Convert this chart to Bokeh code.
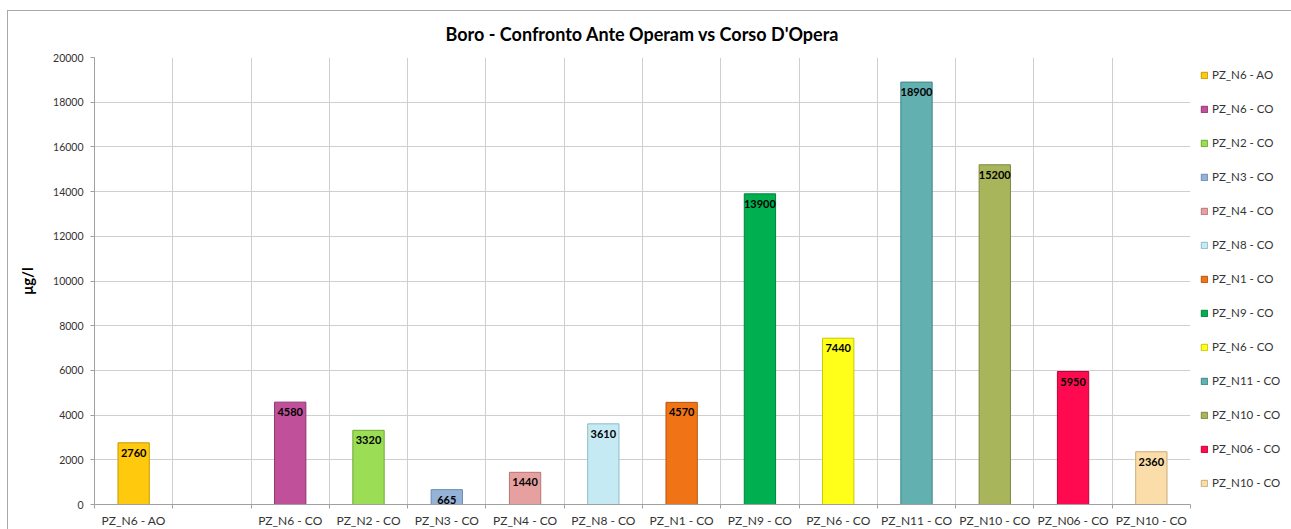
from bokeh.plotting import figure
from bokeh.models import (ColumnDataSource, FixedTicker, Legend, LegendItem, Range1d)
from bokeh.core.properties import value
from bokeh.embed import file_html
from bokeh.resources import INLINE

# ---- data ----
title_text = "Boro - Confronto Ante Operam vs Corso D'Opera"
y_label = "μg/l"
x_labels = ["PZ_N6 - AO", "", "PZ_N6 - CO", "PZ_N2 - CO", "PZ_N3 - CO", "PZ_N4 - CO",
            "PZ_N8 - CO", "PZ_N1 - CO", "PZ_N9 - CO", "PZ_N6 - CO", "PZ_N11 - CO",
            "PZ_N10 - CO", "PZ_N06 - CO", "PZ_N10 - CO"]
series_names = ["PZ_N6 - AO", "PZ_N6 - CO", "PZ_N2 - CO", "PZ_N3 - CO", "PZ_N4 - CO",
                "PZ_N8 - CO", "PZ_N1 - CO", "PZ_N9 - CO", "PZ_N6 - CO", "PZ_N11 - CO",
                "PZ_N10 - CO", "PZ_N06 - CO", "PZ_N10 - CO"]
series_slot = [0, 2, 3, 4, 5, 6, 7, 8, 9, 10, 11, 12, 13]
series_values = [2760, 4580, 3320, 665, 1440, 3610, 4570, 13900, 7440, 18900, 15200, 5950, 2360]
series_colors = ["#FFC90E", "#C0509A", "#9BDD55", "#95B3D7", "#E6A0A0", "#C5EAF3",
                 "#F07415", "#00B050", "#FFFF1A", "#62B0B0", "#A9B55A", "#FF0A50", "#FADDA8"]
line_colors = ["#C89A00", "#8E3570", "#6FA830", "#6A8AB5", "#B87575", "#8FBBC7",
               "#B85410", "#008038", "#C8C800", "#3F8585", "#7D8740", "#C00038", "#C8AD7A"]
y_ticks = list(range(0, 20001, 2000))

FONT = "Lato"
FW, FH = 1096, 447
BL, BT, BB = 86, 46, 24
n_slots = len(x_labels)
centers = [i + 0.5 for i in range(n_slots)]
bounds = list(range(n_slots + 1))

p = figure(frame_width=FW, frame_height=FH, output_backend="svg", toolbar_location=None,
           x_range=Range1d(0, n_slots), y_range=Range1d(0, 20000),
           min_border_left=BL, min_border_right=0, min_border_top=BT, min_border_bottom=BB)

p.title.text = title_text
p.title.align = "center"
p.title.vertical_align = "top"
p.title.text_font = FONT
p.title.text_font_size = "18px"
p.title.text_font_style = "bold"
p.title.text_color = "#000000"
p.title.offset = 0
p.title.standoff = 21

src = ColumnDataSource(dict(x=[s + 0.5 for s in series_slot], top=series_values,
                            fill=series_colors, line=line_colors,
                            lbl=[str(v) for v in series_values]))
bars = p.vbar(x="x", top="top", width=0.4, source=src, fill_color="fill",
              line_color="line", line_width=1)
p.text(x="x", y="top", text="lbl", source=src, text_align="center",
       text_baseline="top", y_offset=6, text_font=value(FONT),
       text_font_size="11px", text_font_style="bold", text_color="#000000")

# axes
p.xaxis.ticker = FixedTicker(ticks=centers, minor_ticks=bounds)
p.xaxis.major_label_overrides = {c: l for c, l in zip(centers, x_labels)}
p.xaxis.major_tick_out = 0
p.xaxis.major_tick_in = 0
p.xaxis.minor_tick_out = 4
p.xaxis.minor_tick_in = 0
p.xaxis.minor_tick_line_color = "#A0A0A0"
p.xaxis.axis_line_color = "#A0A0A0"
p.xaxis.major_label_text_font = FONT
p.xaxis.major_label_text_font_size = "12px"
p.xaxis.major_label_text_color = "#333333"
p.xaxis.major_label_standoff = 4

p.yaxis.ticker = FixedTicker(ticks=y_ticks)
p.yaxis.major_label_overrides = {t: str(t) for t in y_ticks}
p.yaxis.minor_tick_line_color = None
p.yaxis.major_tick_out = 4
p.yaxis.major_tick_in = 0
p.yaxis.major_tick_line_color = "#A0A0A0"
p.yaxis.axis_line_color = "#A0A0A0"
p.yaxis.major_label_text_font = FONT
p.yaxis.major_label_text_font_size = "10.5px"
p.yaxis.major_label_text_color = "#333333"
p.yaxis.major_label_standoff = 7
p.yaxis.axis_label = y_label
p.yaxis.axis_label_text_font = FONT
p.yaxis.axis_label_text_font_size = "15px"
p.yaxis.axis_label_text_font_style = "bold"
p.yaxis.axis_label_text_color = "#000000"
p.yaxis.axis_label_standoff = 14

p.xgrid.ticker = FixedTicker(ticks=bounds)
p.xgrid.grid_line_color = "#CFCFCF"
p.ygrid.grid_line_color = "#CFCFCF"
p.outline_line_color = None

# legend in the right side panel
items = [LegendItem(label=n, renderers=[bars], index=i) for i, n in enumerate(series_names)]
legend = Legend(items=items, location="top_left",
                border_line_color=None, background_fill_alpha=0, margin=10, padding=0,
                glyph_width=8, glyph_height=8, label_standoff=4,
                label_height=15, spacing=19,
                label_text_font=FONT, label_text_font_size="11.5px",
                label_text_color="#333333")
p.add_layout(legend, "right")

# outer frame
p.styles = {"border": "1px solid #A8A8A8", "margin": "10px 0 0 7px"}

open("out.html", "w").write(file_html(p, INLINE))
